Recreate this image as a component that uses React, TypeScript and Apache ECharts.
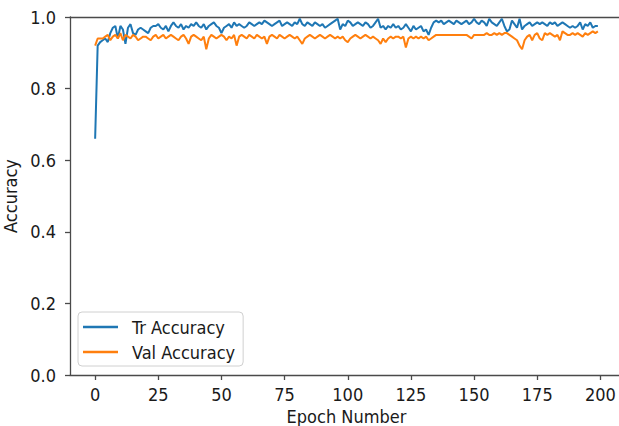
import React, { useEffect, useRef } from "react";
import * as echarts from "echarts";

const trainAccuracy: number[] = [
  0.66, 0.92, 0.93, 0.935, 0.94, 0.93, 0.955, 0.97, 0.975, 0.94,
  0.975, 0.965, 0.925, 0.97, 0.98, 0.955, 0.95, 0.965, 0.97, 0.965,
  0.96, 0.955, 0.97, 0.975, 0.975, 0.98, 0.97, 0.965, 0.975, 0.96,
  0.975, 0.985, 0.975, 0.97, 0.98, 0.965, 0.975, 0.97, 0.98, 0.975,
  0.985, 0.975, 0.97, 0.98, 0.965, 0.975, 0.98, 0.985, 0.975, 0.97,
  0.955, 0.97, 0.975, 0.98, 0.97, 0.985, 0.975, 0.98, 0.975, 0.97,
  0.975, 0.985, 0.98, 0.975, 0.98, 0.985, 0.98, 0.99, 0.985, 0.98,
  0.975, 0.98, 0.985, 0.99, 0.975, 0.98, 0.985, 0.98, 0.975, 0.985,
  0.98, 0.995, 0.98, 0.975, 0.985, 0.98, 0.975, 0.985, 0.98, 0.975,
  0.98, 0.97, 0.975, 0.98, 0.985, 0.99, 0.995, 0.965, 0.98, 0.975,
  0.99, 0.985, 0.975, 0.98, 0.985, 0.98, 0.975, 0.985, 0.98, 0.97,
  0.975, 0.985, 0.995, 0.97, 0.975, 0.965, 0.975, 0.97, 0.98, 0.97,
  0.975, 0.965, 0.97, 0.98, 0.97, 0.96, 0.975, 0.965, 0.97, 0.975,
  0.96, 0.965, 0.95, 0.97, 0.985, 0.99, 0.985, 0.99, 0.98, 0.985,
  0.99, 0.985, 0.98, 0.99, 0.985, 0.98, 0.985, 0.99, 0.98, 0.985,
  0.995, 0.985, 0.98, 0.99, 0.985, 0.975, 0.995, 0.985, 0.98, 0.975,
  0.985, 0.995, 0.975, 0.96, 0.965, 0.99, 0.98, 0.97, 0.995, 0.965,
  0.975, 0.98, 0.985, 0.975, 0.98, 0.985, 0.98, 0.985, 0.98, 0.975,
  0.985, 0.98, 0.985, 0.975, 0.98, 0.985, 0.98, 0.975, 0.97, 0.975,
  0.97, 0.975, 0.985, 0.965, 0.98, 0.975, 0.985, 0.97, 0.975, 0.975,
];

const valAccuracy: number[] = [
  0.92, 0.94, 0.94, 0.94, 0.945, 0.95, 0.935, 0.945, 0.95, 0.94,
  0.955, 0.935, 0.95, 0.945, 0.94, 0.95, 0.945, 0.935, 0.94, 0.945,
  0.945, 0.94, 0.935, 0.945, 0.95, 0.94, 0.945, 0.95, 0.94, 0.945,
  0.95, 0.945, 0.94, 0.935, 0.945, 0.95, 0.94, 0.925, 0.945, 0.95,
  0.945, 0.94, 0.935, 0.945, 0.91, 0.94, 0.95, 0.945, 0.94, 0.945,
  0.95, 0.945, 0.935, 0.945, 0.94, 0.95, 0.92, 0.945, 0.95, 0.945,
  0.94, 0.95, 0.945, 0.94, 0.95, 0.945, 0.94, 0.945, 0.925, 0.945,
  0.95, 0.945, 0.94, 0.95, 0.945, 0.94, 0.945, 0.95, 0.945, 0.94,
  0.945, 0.935, 0.925, 0.94, 0.945, 0.95, 0.945, 0.94, 0.945, 0.95,
  0.945, 0.94, 0.945, 0.95, 0.945, 0.94, 0.945, 0.94, 0.945, 0.935,
  0.93, 0.94, 0.945, 0.95, 0.945, 0.94, 0.945, 0.95, 0.945, 0.94,
  0.945, 0.94, 0.935, 0.925, 0.94, 0.93, 0.94, 0.945, 0.94, 0.945,
  0.945, 0.94, 0.945, 0.915, 0.94, 0.945, 0.94, 0.945, 0.94, 0.945,
  0.94, 0.945, 0.935, 0.94, 0.945, 0.95, 0.95, 0.95, 0.95, 0.95,
  0.95, 0.95, 0.95, 0.95, 0.95, 0.95, 0.95, 0.95, 0.945, 0.94,
  0.95, 0.95, 0.95, 0.95, 0.95, 0.955, 0.95, 0.95, 0.955, 0.95,
  0.955, 0.95, 0.955, 0.955, 0.95, 0.945, 0.94, 0.935, 0.92, 0.91,
  0.935, 0.945, 0.95, 0.935, 0.95, 0.955, 0.94, 0.935, 0.955, 0.95,
  0.955, 0.95, 0.945, 0.95, 0.935, 0.96, 0.955, 0.95, 0.95, 0.955,
  0.95, 0.955, 0.95, 0.945, 0.955, 0.95, 0.955, 0.96, 0.955, 0.96,
];

const xTickValues: number[] = [0, 25, 50, 75, 100, 125, 150, 175, 200];
const seriesNames: string[] = ["Tr Accuracy", "Val Accuracy"];
const xAxisTitle = "Epoch Number";
const yAxisTitle = "Accuracy";

const FONT = "'DejaVu Sans Condensed', 'DejaVu Sans', sans-serif";
const FONT_SIZE = 18;
const AXIS_COLOR = "#4a4a4a";
const TEXT_COLOR = "#1a1a1a";

export default function App() {
  const ref = useRef<HTMLDivElement>(null);

  useEffect(() => {
    if (!ref.current) return;
    const chart = echarts.init(ref.current, null, { renderer: "svg" });
    const n = trainAccuracy.length;
    const pad = (n - 1) * 0.05;
    const spine = { show: true, onZero: false, lineStyle: { color: AXIS_COLOR, width: 1.3 } };

    chart.setOption({
      animation: false,
      backgroundColor: "#ffffff",
      textStyle: { fontFamily: FONT },
      grid: {
        left: 70,
        top: 17,
        width: 553,
        height: 358,
        containLabel: false,
        outerBoundsMode: "none",
      },
      legend: {
        data: seriesNames,
        orient: "vertical",
        left: 78,
        top: 312,
        icon: "rect",
        itemWidth: 35,
        itemHeight: 2.5,
        itemGap: 7,
        padding: [6, 8, 5, 5],
        borderColor: "#d0d0d0",
        borderWidth: 1,
        borderRadius: 4,
        backgroundColor: "rgba(255,255,255,0.85)",
        textStyle: {
          fontFamily: FONT,
          fontSize: FONT_SIZE,
          color: TEXT_COLOR,
          lineHeight: 18,
          padding: [0, 0, 0, 9],
        },
      },
      xAxis: [
        {
          type: "value",
          min: -pad,
          max: n - 1 + pad,
          position: "bottom",
          name: xAxisTitle,
          nameLocation: "middle",
          nameGap: 28,
          nameTextStyle: { fontFamily: FONT, fontSize: FONT_SIZE, color: TEXT_COLOR },
          axisLine: spine,
          axisTick: {
            show: true,
            length: 5,
            customValues: xTickValues,
            lineStyle: { color: AXIS_COLOR, width: 1.3 },
          },
          axisLabel: {
            customValues: xTickValues,
            margin: 10,
            fontFamily: FONT,
            fontSize: FONT_SIZE,
            color: TEXT_COLOR,
          },
          splitLine: { show: false },
        },
        {
          type: "value",
          min: -pad,
          max: n - 1 + pad,
          position: "top",
          axisLine: spine,
          axisTick: { show: false },
          axisLabel: { show: false },
          splitLine: { show: false },
        },
      ],
      yAxis: [
        {
          type: "value",
          min: 0,
          max: 1,
          interval: 0.2,
          position: "left",
          name: yAxisTitle,
          nameLocation: "middle",
          nameGap: 42,
          nameRotate: 90,
          nameTextStyle: { fontFamily: FONT, fontSize: FONT_SIZE, color: TEXT_COLOR },
          axisLine: spine,
          axisTick: { show: true, length: 5, lineStyle: { color: AXIS_COLOR, width: 1.3 } },
          axisLabel: {
            margin: 14,
            fontFamily: FONT,
            fontSize: FONT_SIZE,
            color: TEXT_COLOR,
            formatter: (v: number) => v.toFixed(1),
          },
          splitLine: { show: false },
        },
        {
          type: "value",
          min: 0,
          max: 1,
          position: "right",
          axisLine: spine,
          axisTick: { show: false },
          axisLabel: { show: false },
          splitLine: { show: false },
        },
      ],
      series: [
        {
          name: seriesNames[0],
          type: "line",
          xAxisIndex: 0,
          yAxisIndex: 0,
          data: trainAccuracy.map((v, i) => [i, v]),
          showSymbol: false,
          symbol: "none",
          color: "#1f77b4",
          lineStyle: { color: "#1f77b4", width: 2 },
          z: 3,
        },
        {
          name: seriesNames[1],
          type: "line",
          xAxisIndex: 0,
          yAxisIndex: 0,
          data: valAccuracy.map((v, i) => [i, v]),
          showSymbol: false,
          symbol: "none",
          color: "#ff7f0e",
          lineStyle: { color: "#ff7f0e", width: 2 },
          z: 4,
        },
      ],
    });

    return () => chart.dispose();
  }, []);

  return (
    <div
      ref={ref}
      style={{ position: "absolute", left: 0, top: 0, width: 619, height: 426 }}
    />
  );
}
